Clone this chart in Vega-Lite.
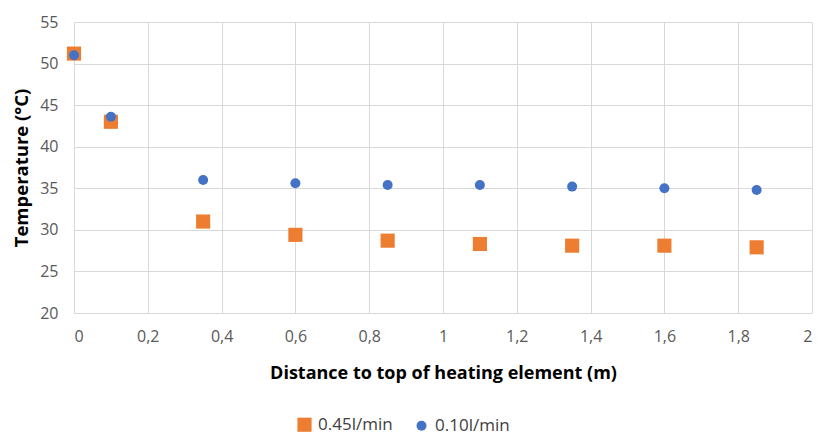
{
  "$schema": "https://vega.github.io/schema/vega-lite/v6.json",
  "autosize": {"type": "none"},
  "width": 738,
  "height": 291,
  "padding": {"left": 74, "top": 22, "right": 6, "bottom": 125},
  "background": "white",
  "config": {
    "font": "Open Sans",
    "view": {"stroke": null}
  },
  "data": {
    "values": [
      {"x": 0, "t": 51.2, "s": "0.45l/min"},
      {"x": 0.1, "t": 43.0, "s": "0.45l/min"},
      {"x": 0.35, "t": 31.0, "s": "0.45l/min"},
      {"x": 0.6, "t": 29.4, "s": "0.45l/min"},
      {"x": 0.85, "t": 28.7, "s": "0.45l/min"},
      {"x": 1.1, "t": 28.3, "s": "0.45l/min"},
      {"x": 1.35, "t": 28.1, "s": "0.45l/min"},
      {"x": 1.6, "t": 28.1, "s": "0.45l/min"},
      {"x": 1.85, "t": 27.9, "s": "0.45l/min"},
      {"x": 0, "t": 51.0, "s": "0.10l/min"},
      {"x": 0.1, "t": 43.6, "s": "0.10l/min"},
      {"x": 0.35, "t": 36.0, "s": "0.10l/min"},
      {"x": 0.6, "t": 35.6, "s": "0.10l/min"},
      {"x": 0.85, "t": 35.4, "s": "0.10l/min"},
      {"x": 1.1, "t": 35.4, "s": "0.10l/min"},
      {"x": 1.35, "t": 35.2, "s": "0.10l/min"},
      {"x": 1.6, "t": 35.0, "s": "0.10l/min"},
      {"x": 1.85, "t": 34.8, "s": "0.10l/min"}
    ]
  },
  "mark": {"type": "point", "filled": true, "opacity": 1},
  "encoding": {
    "x": {
      "field": "x", "type": "quantitative",
      "scale": {"domain": [0, 2], "nice": false, "zero": false},
      "axis": {
        "title": "Distance to top of heating element (m)",
        "values": [0, 0.2, 0.4, 0.6, 0.8, 1, 1.2, 1.4, 1.6, 1.8, 2],
        "labelExpr": "replace(format(datum.value, '~g'), '.', ',')",
        "grid": true, "gridColor": "#d9d9d9", "domainColor": "#d9d9d9",
        "ticks": false, "labelColor": "#595959", "labelFontSize": 16, "labelPadding": 15,
        "titleFontSize": 18, "titleFontWeight": "bold", "titleColor": "#000000", "titlePadding": 20
      }
    },
    "y": {
      "field": "t", "type": "quantitative",
      "scale": {"domain": [20, 55], "nice": false, "zero": false},
      "axis": {
        "title": "Temperature (°C)",
        "values": [20, 25, 30, 35, 40, 45, 50, 55],
        "grid": true, "gridColor": "#d9d9d9", "domainColor": "#d9d9d9",
        "ticks": false, "labelColor": "#595959", "labelFontSize": 16, "labelPadding": 16,
        "titleFontSize": 18.5, "titleFontWeight": "bold", "titleColor": "#000000", "titlePadding": 8
      }
    },
    "color": {
      "field": "s", "type": "nominal",
      "scale": {"domain": ["0.45l/min", "0.10l/min"], "range": ["#ED7D31", "#4472C4"]},
      "legend": {
        "title": null, "orient": "none", "direction": "horizontal",
        "legendX": 222, "legendY": 394, "padding": 0,
        "labelFontSize": 17, "labelColor": "#404040", "symbolSize": 150,
        "labelOffset": 5, "columnPadding": 20, "symbolOpacity": 1
      }
    },
    "shape": {
      "field": "s", "type": "nominal",
      "scale": {"domain": ["0.45l/min", "0.10l/min"], "range": ["square", "circle"]}
    },
    "size": {
      "field": "s", "type": "nominal",
      "scale": {"domain": ["0.45l/min", "0.10l/min"], "range": [200, 100]},
      "legend": null
    }
  }
}
